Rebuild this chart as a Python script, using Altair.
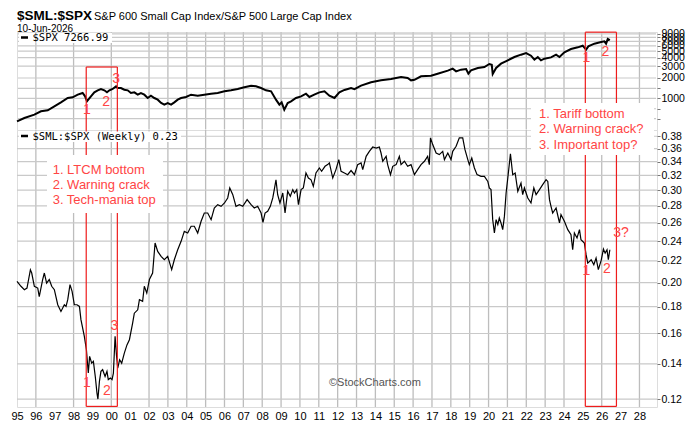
import altair as alt
import pandas as pd

# ---------------- data ----------------
ratio_year = [
    1995.00, 1995.21, 1995.39, 1995.53, 1995.71, 1995.78, 1995.92, 1996.10, 1996.18, 1996.36,
    1996.45, 1996.57, 1996.71, 1996.84, 1996.98, 1997.16, 1997.33, 1997.51, 1997.60, 1997.69,
    1997.81, 1997.92, 1998.04, 1998.18, 1998.31, 1998.39, 1998.57, 1998.68, 1998.78, 1998.85,
    1998.96, 1999.05, 1999.15, 1999.24, 1999.29, 1999.37, 1999.45, 1999.54, 1999.67, 1999.77,
    1999.84, 1999.95, 2000.04, 2000.11, 2000.20, 2000.28, 2000.34, 2000.44, 2000.55, 2000.69,
    2000.83, 2000.96, 2001.13, 2001.22, 2001.40, 2001.49, 2001.66, 2001.75, 2001.88, 2002.02,
    2002.19, 2002.32, 2002.46, 2002.64, 2002.81, 2002.99, 2003.20, 2003.34, 2003.52, 2003.70,
    2003.87, 2004.05, 2004.23, 2004.40, 2004.58, 2004.76, 2004.93, 2005.11, 2005.29, 2005.46,
    2005.64, 2005.82, 2006.00, 2006.17, 2006.28, 2006.44, 2006.61, 2006.79, 2006.97, 2007.20,
    2007.41, 2007.58, 2007.76, 2007.94, 2008.04, 2008.15, 2008.29, 2008.43, 2008.56, 2008.64,
    2008.73, 2008.82, 2008.94, 2009.09, 2009.21, 2009.35, 2009.49, 2009.62, 2009.71, 2009.83,
    2009.92, 2010.06, 2010.18, 2010.32, 2010.45, 2010.59, 2010.71, 2010.85, 2011.03, 2011.15,
    2011.33, 2011.47, 2011.56, 2011.74, 2011.91, 2012.06, 2012.18, 2012.36, 2012.53, 2012.71,
    2012.89, 2013.06, 2013.24, 2013.33, 2013.51, 2013.68, 2013.86, 2014.04, 2014.21, 2014.30,
    2014.39, 2014.57, 2014.65, 2014.80, 2014.92, 2015.10, 2015.27, 2015.36, 2015.54, 2015.71,
    2015.89, 2016.07, 2016.24, 2016.42, 2016.60, 2016.77, 2016.86, 2016.92, 2017.04, 2017.22,
    2017.39, 2017.57, 2017.66, 2017.84, 2018.01, 2018.10, 2018.28, 2018.45, 2018.63, 2018.75,
    2018.90, 2018.98, 2019.11, 2019.25, 2019.39, 2019.60, 2019.78, 2019.96, 2020.04, 2020.13,
    2020.22, 2020.31, 2020.40, 2020.49, 2020.57, 2020.66, 2020.75, 2020.84, 2020.93, 2021.02,
    2021.16, 2021.28, 2021.41, 2021.55, 2021.72, 2021.81, 2021.90, 2022.08, 2022.25, 2022.40,
    2022.52, 2022.70, 2022.87, 2023.05, 2023.14, 2023.23, 2023.31, 2023.40, 2023.58, 2023.76,
    2023.84, 2024.02, 2024.20, 2024.37, 2024.46, 2024.55, 2024.69, 2024.82, 2024.90, 2025.08,
    2025.17, 2025.26, 2025.44, 2025.58, 2025.70, 2025.82, 2025.97, 2026.09, 2026.18, 2026.28,
    2026.35, 2026.43,
]
ratio_val = [
    0.2011, 0.1968, 0.1939, 0.1953, 0.2116, 0.2086, 0.1968, 0.1953, 0.1881, 0.2027,
    0.2086, 0.1996, 0.2027, 0.1968, 0.1939, 0.1815, 0.1762, 0.1815, 0.1802, 0.1856,
    0.1982, 0.1925, 0.1815, 0.1815, 0.1802, 0.1700, 0.1580, 0.1490, 0.1345, 0.1447,
    0.1405, 0.1416, 0.1325, 0.1232, 0.1200, 0.1297, 0.1355, 0.1365, 0.1325, 0.1355,
    0.1307, 0.1316, 0.1307, 0.1345, 0.1580, 0.1447, 0.1375, 0.1426, 0.1405, 0.1468,
    0.1522, 0.1557, 0.1675, 0.1749, 0.1775, 0.1856, 0.1843, 0.1968, 0.1910, 0.2027,
    0.2086, 0.2379, 0.2293, 0.2244, 0.2211, 0.2244, 0.2117, 0.2211, 0.2310, 0.2397,
    0.2504, 0.2486, 0.2561, 0.2561, 0.2486, 0.2617, 0.2714, 0.2714, 0.2636, 0.2774,
    0.2815, 0.2795, 0.2836, 0.2899, 0.3029, 0.2941, 0.2795, 0.2815, 0.2795, 0.2878,
    0.2815, 0.2774, 0.2795, 0.2714, 0.2606, 0.2714, 0.2734, 0.2795, 0.2899, 0.3007,
    0.3140, 0.2941, 0.2836, 0.2963, 0.2714, 0.2985, 0.2920, 0.3007, 0.2963, 0.3007,
    0.2815, 0.3007, 0.3029, 0.3235, 0.3164, 0.3140, 0.3051, 0.3235, 0.3307, 0.3259,
    0.3331, 0.3356, 0.3380, 0.3164, 0.3283, 0.3430, 0.3259, 0.3235, 0.3211, 0.3270,
    0.3211, 0.3356, 0.3380, 0.3283, 0.3480, 0.3557, 0.3625, 0.3609, 0.3625, 0.3531,
    0.3405, 0.3480, 0.3356, 0.3211, 0.3331, 0.3356, 0.3480, 0.3356, 0.3405, 0.3331,
    0.3356, 0.3211, 0.3283, 0.3356, 0.3405, 0.3480, 0.3356, 0.3773, 0.3664, 0.3531,
    0.3506, 0.3557, 0.3430, 0.3531, 0.3430, 0.3557, 0.3636, 0.3773, 0.3773, 0.3583,
    0.3430, 0.3356, 0.3455, 0.3307, 0.3211, 0.3187, 0.3187, 0.3117, 0.3029, 0.3007,
    0.2636, 0.2486, 0.2636, 0.2579, 0.2655, 0.2598, 0.2523, 0.2674, 0.2963, 0.3164,
    0.3520, 0.3211, 0.3235, 0.2985, 0.3095, 0.2941, 0.3029, 0.2899, 0.2836, 0.3029,
    0.2941, 0.3007, 0.3074, 0.3140, 0.3117, 0.2878, 0.2795, 0.2714, 0.2774, 0.2598,
    0.2695, 0.2617, 0.2523, 0.2468, 0.2310, 0.2486, 0.2432, 0.2523, 0.2414, 0.2379,
    0.2261, 0.2179, 0.2211, 0.2163, 0.2228, 0.2117, 0.2204, 0.2317, 0.2276, 0.2310,
    0.2211, 0.2310,
]

spx_year = [
    1995.00, 1995.39, 1995.92, 1996.27, 1996.63, 1996.98, 1997.33, 1997.69, 1997.95, 1998.22,
    1998.48, 1998.61, 1998.71, 1998.78, 1998.92, 1999.10, 1999.28, 1999.45, 1999.63, 1999.77,
    1999.90, 2000.07, 2000.25, 2000.34, 2000.51, 2000.69, 2000.87, 2001.04, 2001.22, 2001.40,
    2001.57, 2001.75, 2001.93, 2002.10, 2002.28, 2002.46, 2002.64, 2002.81, 2002.99, 2003.17,
    2003.34, 2003.52, 2003.70, 2003.96, 2004.23, 2004.58, 2004.93, 2005.29, 2005.64, 2006.00,
    2006.35, 2006.70, 2007.05, 2007.41, 2007.67, 2007.94, 2008.20, 2008.47, 2008.73, 2008.91,
    2009.03, 2009.17, 2009.35, 2009.53, 2009.79, 2010.06, 2010.32, 2010.50, 2010.76, 2011.03,
    2011.30, 2011.56, 2011.83, 2012.09, 2012.36, 2012.71, 2012.89, 2013.24, 2013.77, 2014.30,
    2014.83, 2015.36, 2015.71, 2015.89, 2016.07, 2016.42, 2016.95, 2017.30, 2017.84, 2018.10,
    2018.28, 2018.54, 2018.81, 2018.93, 2019.07, 2019.43, 2019.78, 2020.04, 2020.17, 2020.22,
    2020.40, 2020.66, 2021.02, 2021.37, 2021.72, 2021.99, 2022.25, 2022.43, 2022.61, 2022.78,
    2022.96, 2023.31, 2023.58, 2023.76, 2024.02, 2024.37, 2024.73, 2024.99, 2025.17, 2025.29,
    2025.61, 2025.97, 2026.14, 2026.23, 2026.32, 2026.43,
]
spx_val = [
    456, 510, 572, 641, 663, 760, 871, 1010, 1033, 1132,
    1198, 1069, 902, 954, 1069, 1226, 1313, 1374, 1313, 1226,
    1313, 1374, 1504, 1421, 1421, 1342, 1313, 1198, 1226, 1132,
    1198, 1132, 1010, 1094, 1010, 954, 852, 805, 852, 805,
    871, 954, 1010, 1045, 1132, 1094, 1132, 1171, 1198, 1268,
    1313, 1374, 1454, 1539, 1504, 1421, 1313, 1268, 954, 805,
    871, 679, 852, 902, 1010, 1069, 1171, 1045, 1132, 1226,
    1268, 1094, 1010, 1226, 1330, 1421, 1370, 1539, 1725, 1846,
    1932, 2069, 1999, 1846, 1880, 2116, 2165, 2318, 2568, 2750,
    2510, 2657, 2718, 2318, 2597, 2813, 2911, 3224, 3151, 2292,
    2813, 3261, 3654, 4090, 4433, 4693, 4285, 3737, 4090, 3654,
    3866, 4044, 4433, 4090, 4801, 5380, 5694, 6023, 5258, 5889,
    6453, 6835, 6992, 6453, 7561, 7267,
]

x_years = list(range(1995, 2029))
grid_years = [1996.0, 1998.0, 2000.0] + [float(y) for y in range(2002, 2025)] + [2026.0, 2028.0]
spx_ticks = [500, 700, 1000, 1400, 2000, 3000, 4000, 5000, 6000, 7000, 8000, 9000]
ratio_ticks = [0.12, 0.14, 0.16, 0.18, 0.20, 0.22, 0.24, 0.26, 0.28, 0.30, 0.32, 0.34, 0.36, 0.38]

X_DOMAIN = [1995, 2028.93]
SPX_DOMAIN = [339, 9612]
RATIO_DOMAIN = [0.1159, 0.3906]

# annotation content
box_left_x = [1998.67, 2000.32]
box_right_x = [2025.13, 2026.78]
top_nums_year = [1998.71, 1999.72, 2000.25, 2025.18, 2026.19]
top_nums_val = [678, 872, 1952, 3956, 4807]
top_nums_txt = ["1", "2", "3", "1", "2"]
bot_nums_year = [2000.16, 1998.71, 1999.77, 2025.18, 2026.28, 2027.02]
bot_nums_val = [0.1655, 0.1287, 0.1244, 0.2102, 0.2126, 0.2486]
bot_nums_txt = ["3", "1", "2", "1", "2", "3?"]
left_notes = ["1. LTCM bottom", "2. Warning crack", "3. Tech-mania top"]
left_notes_val = [0.3282, 0.3065, 0.2870]
right_notes = ["1. Tariff bottom", "2. Warning crack?", "3. Important top?"]
right_notes_val = [0.4191, 0.3924, 0.3662]

RED_LINE = "#ee1c1c"
RED_TXT = "#ff4545"
FONT = "Liberation Sans"
MONO = "DejaVu Sans Mono"
VGRID = "#bdbdbd"
HGRID = "#c9c9c9"

# ---------------- shared encodings ----------------
xs_top = alt.X("year:Q", scale=alt.Scale(domain=X_DOMAIN, nice=False, zero=False),
               axis=alt.Axis(values=x_years, labels=False, ticks=False, domain=False,
                             title=None, grid=False))
ys_top = alt.Y("val:Q", scale=alt.Scale(type="log", domain=SPX_DOMAIN, nice=False),
               axis=alt.Axis(orient="right", values=spx_ticks, title=None, grid=False,
                             domain=False, tickSize=3, tickColor="#777",
                             labelExpr="datum.value % 1000 === 0 ? '' + datum.value : ''",
                             labelOverlap=False, labelFontSize=10.5, labelPadding=1,
                             labelFont=FONT, labelColor="#000", labelFlush=False))
xs_bot = alt.X("year:Q", scale=alt.Scale(domain=X_DOMAIN, nice=False, zero=False),
               axis=alt.Axis(values=x_years, title=None, ticks=False, domain=False, grid=False,
                             labelExpr="(datum.value % 100 < 10 ? '0' : '') + (datum.value % 100)",
                             labelFlush=False, labelAngle=0, labelPadding=3,
                             labelFontSize=11, labelFont=FONT, labelColor="#000",
                             labelOverlap=False))
ys_bot = alt.Y("val:Q", scale=alt.Scale(type="log", domain=RATIO_DOMAIN, nice=False),
               axis=alt.Axis(orient="right", values=ratio_ticks, format=".2f", title=None,
                             grid=False, domain=False, tickSize=3, tickColor="#777",
                             labelOverlap=False, labelFontSize=10.5, labelPadding=1,
                             labelFont=FONT, labelColor="#000", labelFlush=False))

one = pd.DataFrame({"a": [0]})
TOP_H = 98
BOT_H = 277
W = 640

# ---------------- top panel ----------------
top_vgrid_df = pd.DataFrame({"year": grid_years,
                             "val": [9500.0] * len(grid_years),
                             "val2": [345.0] * len(grid_years)})
top_hgrid_df = pd.DataFrame({"val": [float(v) for v in spx_ticks],
                             "year": [1995.05] * len(spx_ticks),
                             "year2": [2028.88] * len(spx_ticks)})
top_vgrid = alt.Chart(top_vgrid_df).mark_rule(color=VGRID, strokeWidth=1.3).encode(
    x=xs_top, y=ys_top, y2="val2:Q")
top_hgrid = alt.Chart(top_hgrid_df).mark_rule(color=HGRID, strokeWidth=1.2).encode(
    x=xs_top, x2="year2:Q", y=ys_top)

spx_df = pd.DataFrame({"year": spx_year, "val": spx_val})
spx_line = alt.Chart(spx_df).mark_line(color="black", strokeWidth=2).encode(x=xs_top, y=ys_top)

top_vrules = pd.DataFrame({
    "year": box_left_x + box_right_x,
    "val": [2910, 2910, 9560, 9560],
    "val2": [SPX_DOMAIN[0]] * 4,
})
top_hrules = pd.DataFrame({"year": [box_left_x[0], box_right_x[0]],
                           "year2": [box_left_x[1], box_right_x[1]],
                           "val": [2910, 9560]})
top_v = alt.Chart(top_vrules).mark_rule(color=RED_LINE, strokeWidth=1.2).encode(
    x=xs_top, y=ys_top, y2="val2:Q")
top_h = alt.Chart(top_hrules).mark_rule(color=RED_LINE, strokeWidth=1.2).encode(
    x=xs_top, x2="year2:Q", y=ys_top)

top_nums = alt.Chart(pd.DataFrame({"year": top_nums_year, "val": top_nums_val, "t": top_nums_txt})).mark_text(
    color=RED_TXT, fontSize=14, font=FONT, align="center", baseline="middle").encode(
    x=xs_top, y=ys_top, text="t:N")

legend_bg_top = alt.Chart(one).mark_rect(color="white").encode(
    x=alt.value(2), x2=alt.value(95), y=alt.value(1), y2=alt.value(11))
legend_line_top = alt.Chart(one).mark_rule(color="black", strokeWidth=2.5).encode(
    x=alt.value(4), x2=alt.value(11), y=alt.value(5.5))
legend_txt_top = alt.Chart(pd.DataFrame({"t": ["$SPX 7266.99"]})).mark_text(
    font=MONO, fontSize=10.5, align="left", baseline="middle", color="black").encode(
    x=alt.value(15.5), y=alt.value(6), text="t:N")

hdr1 = alt.Chart(pd.DataFrame({"t": ["$SML:$SPX"]})).mark_text(
    font=FONT, fontSize=13.5, fontWeight="bold", align="left", baseline="alphabetic", color="black").encode(
    x=alt.value(0), y=alt.value(-12), text="t:N")
hdr2 = alt.Chart(pd.DataFrame({"t": ["S&P 600 Small Cap Index/S&P 500 Large Cap Index"]})).mark_text(
    font=FONT, fontSize=11, align="left", baseline="alphabetic", color="black").encode(
    x=alt.value(77), y=alt.value(-12), text="t:N")
hdr3 = alt.Chart(pd.DataFrame({"t": ["10-Jun-2026"]})).mark_text(
    font=FONT, fontSize=10, align="left", baseline="alphabetic", color="black").encode(
    x=alt.value(0), y=alt.value(-0.5), text="t:N")

top = alt.layer(top_vgrid, top_hgrid, spx_line, top_v, top_h, top_nums, legend_bg_top,
                legend_line_top, legend_txt_top, hdr1, hdr2, hdr3).properties(width=W, height=TOP_H)

# ---------------- bottom panel ----------------
bot_vgrid_df = pd.DataFrame({"year": grid_years})
bot_hgrid_df = pd.DataFrame({"val": ratio_ticks})
bot_vgrid = alt.Chart(bot_vgrid_df).mark_rule(color=VGRID, strokeWidth=1.3).encode(
    x=xs_bot, y=alt.value(0), y2=alt.value(BOT_H))
bot_hgrid = alt.Chart(bot_hgrid_df).mark_rule(color=HGRID, strokeWidth=1.2).encode(
    y=ys_bot, x=alt.value(0), x2=alt.value(W))

ratio_df = pd.DataFrame({"year": ratio_year, "val": ratio_val})
ratio_line = alt.Chart(ratio_df).mark_line(color="black", strokeWidth=1.2).encode(x=xs_bot, y=ys_bot)

bot_vrules = pd.DataFrame({
    "year": box_left_x + box_right_x,
    "val": [RATIO_DOMAIN[1]] * 4,
    "val2": [0.1162] * 4,
})
bot_hrules = pd.DataFrame({"year": [box_left_x[0], box_right_x[0]],
                           "year2": [box_left_x[1], box_right_x[1]],
                           "val": [0.1162, 0.1162]})
bot_v = alt.Chart(bot_vrules).mark_rule(color=RED_LINE, strokeWidth=1.2).encode(
    x=xs_bot, y=ys_bot, y2="val2:Q")
bot_h = alt.Chart(bot_hrules).mark_rule(color=RED_LINE, strokeWidth=1.2).encode(
    x=xs_bot, x2="year2:Q", y=ys_bot)

white_boxes = pd.DataFrame({"year": [1996.59, 2022.25], "year2": [2002.74, 2028.77],
                            "val": [0.350, 0.4398], "val2": [0.2714, 0.350]})
boxes = alt.Chart(white_boxes).mark_rect(color="white").encode(
    x=xs_bot, x2="year2:Q", y=ys_bot, y2="val2:Q")

notes_df = pd.DataFrame({
    "year": [1996.89] * 3 + [2022.68] * 3,
    "val": left_notes_val + right_notes_val,
    "t": left_notes + right_notes,
})
notes = alt.Chart(notes_df).mark_text(color=RED_TXT, fontSize=13, font=FONT, align="left",
                                      baseline="middle").encode(x=xs_bot, y=ys_bot, text="t:N")

bot_nums = alt.Chart(pd.DataFrame({"year": bot_nums_year, "val": bot_nums_val, "t": bot_nums_txt})).mark_text(
    color=RED_TXT, fontSize=14, font=FONT, align="center", baseline="middle").encode(
    x=xs_bot, y=ys_bot, text="t:N")

copyright_txt = alt.Chart(pd.DataFrame({"t": ["\u00a9StockCharts.com"]})).mark_text(
    font=FONT, fontSize=11, align="left", baseline="middle", color="#555").encode(
    x=alt.value(312), y=alt.value(253), text="t:N")

legend_bg_bot = alt.Chart(one).mark_rect(color="white").encode(
    x=alt.value(2), x2=alt.value(164), y=alt.value(1.5), y2=alt.value(12))
legend_line_bot = alt.Chart(one).mark_rule(color="black", strokeWidth=2.5).encode(
    x=alt.value(4), x2=alt.value(11), y=alt.value(6))
legend_txt_bot = alt.Chart(pd.DataFrame({"t": ["$SML:$SPX (Weekly) 0.23"]})).mark_text(
    font=MONO, fontSize=10.5, align="left", baseline="middle", color="black").encode(
    x=alt.value(15.5), y=alt.value(6.5), text="t:N")

bottom = alt.layer(bot_vgrid, bot_hgrid, ratio_line, bot_v, bot_h, boxes, notes, bot_nums,
                   copyright_txt, legend_bg_bot, legend_line_bot, legend_txt_bot
                   ).properties(width=W, height=BOT_H)

chart = alt.vconcat(top, bottom, spacing=0, bounds="flush").properties(
    padding={"left": 2, "top": 0, "right": 5, "bottom": 2}, background="white"
).configure_view(stroke="#a8a8a8", strokeWidth=1).configure(font=FONT)

chart.save("out.html", embed_options={"renderer": "svg", "actions": False})
